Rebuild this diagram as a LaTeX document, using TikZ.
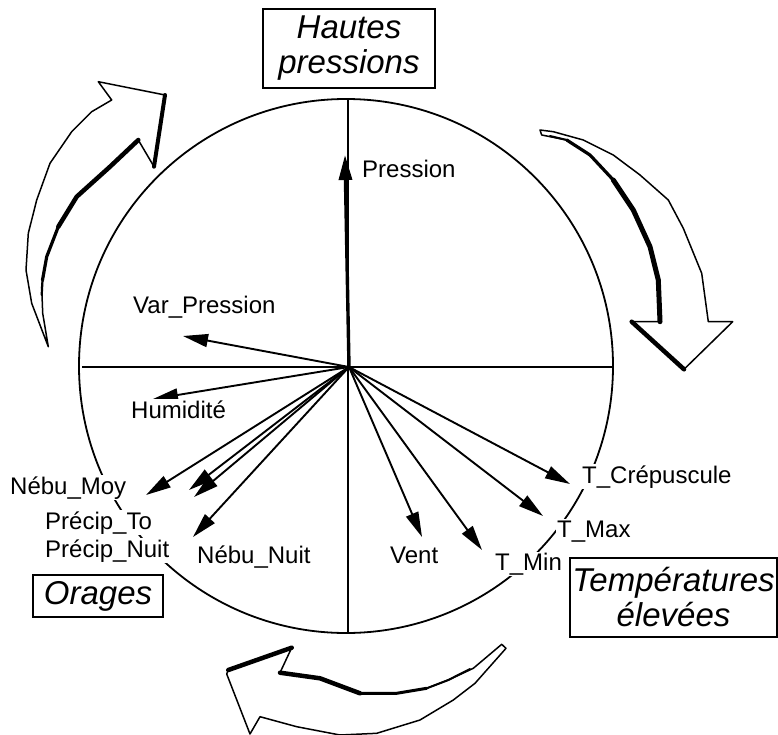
\documentclass[tikz,border=0pt]{standalone}
\usepackage{fontspec}
\setmainfont{Liberation Sans}
\usetikzlibrary{arrows.meta}
\begin{document}
\begin{tikzpicture}[x=1pt,y=-1pt,
  axis/.style={line width=1.8pt},
  vec/.style={line width=1.9pt,-{Triangle[length=25pt,width=13pt]}},
  lab/.style={fill=white,inner sep=1pt,anchor=base west,font=\fontsize{24}{28}\selectfont},
  theme/.style={draw,line width=1.5pt,align=center,inner sep=0pt,font=\fontsize{33}{35}\selectfont\itshape},
  bigarrow/.style={draw,line width=1.5pt,fill=white,line join=round},
  shade/.style={line width=4.5pt,line join=round,line cap=round}]
\useasboundingbox (0,0) rectangle (778,735);

% correlation circle and axes
\draw[axis] (346,366) circle[radius=267];
\coordinate (O) at (349,367);
\coordinate (top) at (348,100);
\coordinate (bot) at (348,633);
\coordinate (lft) at (82,367);
\coordinate (rgt) at (613,367);
\draw[axis] (top) -- (bot);
\draw[axis] (lft) -- (rgt);

% variable vectors
\coordinate (P) at (345,155);
\coordinate (VP) at (183,336);
\coordinate (H) at (153,399);
\coordinate (NM) at (146,495);
\coordinate (PT) at (189,490);
\coordinate (PN) at (194,497);
\coordinate (NN) at (193,537);
\coordinate (V) at (422,537);
\coordinate (TMin) at (482,550);
\coordinate (TMax) at (543,516);
\coordinate (TC) at (570,484);
\draw[vec,line width=3.4pt] (O) -- (P);
\foreach \t in {VP,H,NM,PT,PN,NN,V,TMin,TMax,TC}
  \draw[vec] (O) -- (\t);

% variable labels
\node[lab] (lP)   at (361,178) {Pression};
\node[lab] (lVP)  at (132,313) {Var\_Pression};
\node[lab] (lH)   at (130,418) {Humidité};
\node[lab] (lNM)  at (9,494)   {Nébu\_Moy};
\node[lab] (lPT)  at (44,529)  {Précip\_To};
\node[lab] (lPN)  at (44,557)  {Précip\_Nuit};
\node[lab] (lNN)  at (196,563) {Nébu\_Nuit};
\node[lab] (lV)   at (389,563) {Vent};
\node[lab] (lTMin) at (494,570) {T\_Min};
\node[lab] (lTMax) at (556,537) {T\_Max};
\node[lab] (lTC)  at (581,483) {T\_Crépuscule};

% weather types
\node[theme,minimum width=172pt,minimum height=79pt] (hp) at (349,48.5) {Hautes\\pressions};
\node[theme,minimum width=130pt,minimum height=42pt] (or) at (98,596) {Orages};
\node[theme,minimum width=207pt,minimum height=79pt] (te) at (673.5,597.5) {Températures\\élevées};

% cycle arrow, upper left
\draw[bigarrow] (48.3,346.7) -- (31.7,303.3) -- (26,270) -- (28.3,233.3) -- (36.7,200)
  -- (50,163.3) -- (71.7,131.7) -- (91.7,111.7) -- (111.7,100) -- (98.3,81.7)
  -- (165,95) -- (154,166.7) -- (138.3,140) -- (110,166.7) -- (76.7,196.7)
  -- (58.3,226.7) -- (46.7,256.7) -- (41.7,286.7) -- (42.7,313.3) -- cycle;
\draw[shade,line width=4pt] (165,95) -- (154,166.7);
\draw[shade] (138.3,140) -- (110,166.7) -- (76.7,196.7) -- (58.3,226.7);
\draw[shade,line width=3.2pt] (58.3,226.7) -- (46.7,256.7) -- (42.5,280);
\draw[shade,line width=2.2pt] (42.5,280) -- (41.7,295);

% cycle arrow, right
\draw[bigarrow] (540,130) -- (553.3,131.7) -- (583.3,140) -- (613.3,155) -- (640,175)
  -- (668.3,200) -- (683.3,228.3) -- (701.7,273.3) -- (708.3,321.7) -- (732.7,321.7)
  -- (684,369.3) -- (631.7,321.7) -- (660,321.7) -- (658.3,280) -- (650,246.7)
  -- (633.3,210) -- (613.3,180) -- (590,155) -- (566.7,140) -- (541.7,135) -- cycle;
\draw[shade] (631.7,321.7) -- (684,369.3);
\draw[shade,line width=5pt] (660,321.7) -- (658.3,280) -- (650,246.7) -- (633.3,210) -- (613.3,180);
\draw[shade,line width=3.2pt] (613.3,180) -- (590,155) -- (566.7,140);
\draw[shade,line width=2pt] (566.7,140) -- (550,136);

% cycle arrow, bottom
\draw[bigarrow] (506,648.3) -- (501.7,644.3) -- (473.3,668.3) -- (448.3,680) -- (426.7,688.3)
  -- (396.7,693.3) -- (360,693.3) -- (320,678.3) -- (280,672.7) -- (291.7,647.7)
  -- (228.3,670) -- (226.7,674) -- (250,734) -- (260,716.7) -- (296.7,726.7)
  -- (340,735) -- (376.7,733.3) -- (420,720) -- (453.3,700) -- (475,683.3) -- cycle;
\draw[shade] (228.3,670) -- (291.7,647.7);
\draw[shade] (280,672.7) -- (320,678.3) -- (360,693.3);
\draw[shade,line width=3pt] (360,693.3) -- (396.7,693.3) -- (426.7,688.3);
\draw[shade,line width=2pt] (426.7,688.3) -- (448.3,680) -- (470,669);
\end{tikzpicture}
\end{document}
